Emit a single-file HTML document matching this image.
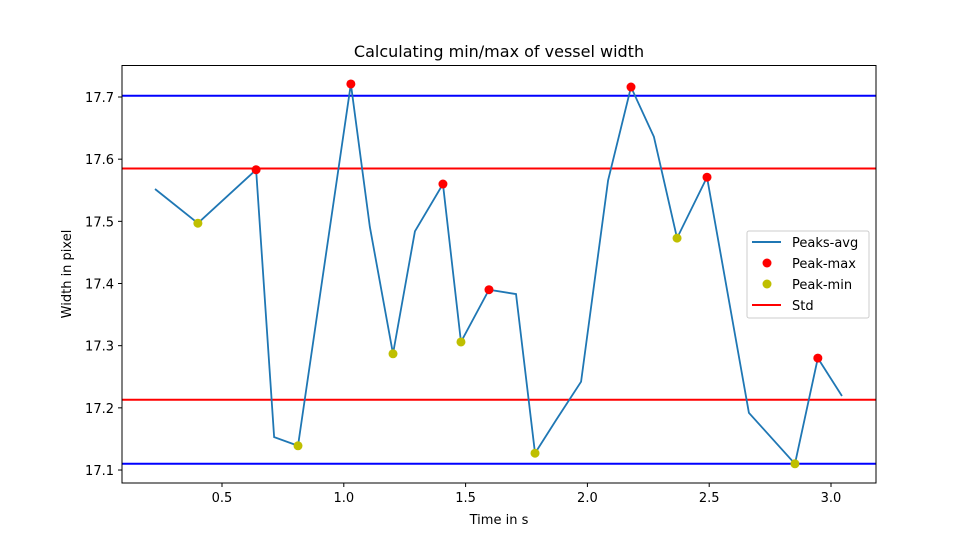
<!DOCTYPE html>
<html><head><meta charset="utf-8"><style>body{margin:0;background:#fff}svg{display:block;font-family:"DejaVu Sans","Liberation Sans",sans-serif}</style></head>
<body>
<svg id="chart" width="973" height="543" viewBox="0 0 973 543" xmlns="http://www.w3.org/2000/svg">
<rect width="973" height="543" fill="#fff"/>
<text x="499" y="57" font-size="16" text-anchor="middle">Calculating min/max of vessel width</text>
<g id="plot"></g>
<rect x="122" y="65.5" width="754" height="417.5" fill="none" stroke="#000" stroke-width="1"/>
<text x="499" y="524" font-size="13" text-anchor="middle">Time in s</text>
<text transform="translate(71,274) rotate(-90)" font-size="13" text-anchor="middle">Width in pixel</text>
<g>
<rect x="747" y="231" width="122" height="87" fill="#fff" stroke="#ccc" rx="2"/>
<line x1="752" y1="242" x2="781" y2="242" stroke="#1f77b4" stroke-width="2"/>
<text x="792" y="247" font-size="13">Peaks-avg</text>
<circle cx="767" cy="263" r="4.5" fill="red"/>
<text x="792" y="268" font-size="13">Peak-max</text>
<circle cx="767" cy="284" r="4.5" fill="#bfbf00"/>
<text x="792" y="289" font-size="13">Peak-min</text>
<line x1="752" y1="305" x2="781" y2="305" stroke="red" stroke-width="2"/>
<text x="792" y="310" font-size="13">Std</text>
</g>
</svg>
<script>
const times=[0.225,0.401,0.640,0.714,0.812,1.029,1.107,1.202,1.292,1.407,1.481,1.596,1.707,1.785,1.871,1.974,2.085,2.179,2.273,2.368,2.491,2.663,2.852,2.946,3.045];
const widths=[17.552,17.497,17.583,17.153,17.139,17.721,17.491,17.287,17.484,17.560,17.306,17.390,17.383,17.127,17.180,17.242,17.566,17.716,17.636,17.473,17.571,17.192,17.110,17.280,17.219];
const maxIdx=[2,5,9,11,17,20,23];
const minIdx=[1,4,7,10,13,19,22];
const stdLines=[17.585,17.213];
const rangeLines=[17.702,17.110];
const xTicks=[0.5,1.0,1.5,2.0,2.5,3.0];
const yTicks=[17.1,17.2,17.3,17.4,17.5,17.6,17.7];
const NS='http://www.w3.org/2000/svg';
const X=v=>100.2+v*243.6;
const Y=v=>97+(17.7-v)*621.7;
const g=document.getElementById('plot');
function mk(t,a){const e=document.createElementNS(NS,t);for(const k in a)e.setAttribute(k,a[k]);g.appendChild(e);return e;}
xTicks.forEach(t=>{
 const l=mk('line',{x1:X(t),x2:X(t),y1:483,y2:487,stroke:'#000'});
 
 
 const tx=mk('text',{x:X(t),y:502,'font-size':13,'text-anchor':'middle'});tx.textContent=t.toFixed(1);
 
 
});
yTicks.forEach(t=>{
 const l=mk('line',{x1:118,x2:122,y1:Y(t),y2:Y(t),stroke:'#000'});
 
 
 const tx=mk('text',{x:114,y:Y(t)+5,'font-size':13,'text-anchor':'end'});tx.textContent=t.toFixed(1);
 
 
});
rangeLines.forEach(v=>{const l=mk('line',{x1:122,x2:876,y1:Y(v),y2:Y(v),stroke:'#0000ff','stroke-width':2});
 
 });
stdLines.forEach(v=>{const l=mk('line',{x1:122,x2:876,y1:Y(v),y2:Y(v),stroke:'red','stroke-width':2});
 
 });
const p=mk('polyline',{points:times.map((t,i)=>X(t)+','+Y(widths[i])).join(' '),fill:'none',stroke:'#1f77b4','stroke-width':1.8});


maxIdx.forEach(i=>{const c=mk('circle',{cx:X(times[i]),cy:Y(widths[i]),r:4.5,fill:'red'});
 
 });
minIdx.forEach(i=>{const c=mk('circle',{cx:X(times[i]),cy:Y(widths[i]),r:4.5,fill:'#bfbf00'});
 
 });
</script>
</body></html>
